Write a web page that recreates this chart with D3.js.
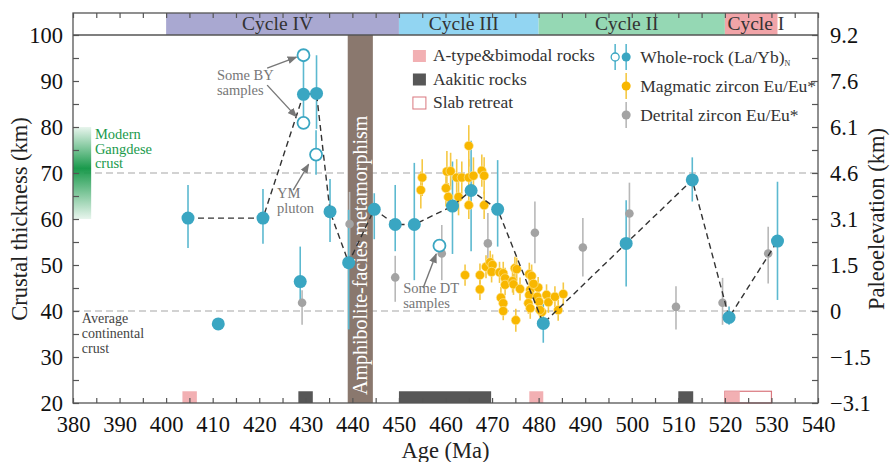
<!DOCTYPE html>
<html>
<head>
<meta charset="utf-8">
<script src="https://cdn.jsdelivr.net/npm/d3@7/dist/d3.min.js"></script>
<style>
  body { margin: 0; background: #fff; }
  svg, svg text { font-family: "Liberation Serif", "Times New Roman", Times, Tinos, "DejaVu Serif", serif !important; }
</style>
</head>
<body>
<div id="chart"></div>
<script>
// age ticks (Ma) and thickness ticks (km)
const ageTicks = [380, 390, 400, 410, 420, 430, 440, 450, 460, 470, 480, 490, 500, 510, 520, 530, 540];
const thickTicks = [20, 30, 40, 50, 60, 70, 80, 90, 100];
const elevLabels = ["\u22123.1", "\u22121.5", "0", "1.5", "3.1", "4.6", "6.1", "7.6", "9.2"];

// cycles along the top band
const cycles = [
  { name: "Cycle IV", from: 400, to: 450, color: "#a9a8d1" },
  { name: "Cycle III", from: 450, to: 480, color: "#92d5f2" },
  { name: "Cycle II", from: 480, to: 520, color: "#95d8b4" },
  { name: "Cycle I", from: 520, to: 531.3, color: "#f1a4a8" }
];

// bottom event bars: type a = A-type&bimodal, k = adakitic, s = slab retreat
const events = [
  { type: "a", from: 403.5, to: 406.6 },
  { type: "k", from: 428.4, to: 431.5 },
  { type: "k", from: 450, to: 469.8 },
  { type: "a", from: 478, to: 481 },
  { type: "k", from: 510, to: 513.2 },
  { type: "s", from: 520, to: 530 },
  { type: "a", from: 520, to: 523.2 }
];

// whole-rock (La/Yb)N, connected by dashed line: [age, thickness, low, high]
const wholeRockLine = [
  [404.7, 60.2, 53.7, 67.4],
  [420.8, 60.2, 54.6, 66.5],
  [429.5, 87.1, 80.9, 95.6],
  [432.3, 87.3, 79.6, 95.6],
  [435.2, 61.6, 55.0, 68.7],
  [439.2, 50.5, 36.0, 62.0],
  [444.7, 62.1, 55.6, 65.6],
  [449.2, 58.8, 53.0, 67.4],
  [453.3, 58.8, 46.7, 72.2],
  [461.5, 62.8, 52.4, 72.5],
  [465.5, 66.2, 53.0, 77.0],
  [471.2, 62.1, 54.0, 72.8],
  [481.0, 37.3, 33.1, 41.5],
  [498.8, 54.7, 45.3, 64.1],
  [513.0, 68.5, 63.8, 73.4],
  [520.9, 38.6, 37.0, 41.0],
  [531.3, 55.2, 42.4, 68.1]
];
// whole-rock, not on the line
const wholeRockOther = [
  [411.2, 37.2, null, null],
  [428.8, 46.4, 42.0, 54.0]
];
// whole-rock open symbols (BY, YM, DT samples)
const wholeRockOpen = [
  [429.5, 95.6, null, null],
  [429.5, 80.9, null, null],
  [432.2, 74.0, 69.6, 79.3],
  [458.7, 54.2, null, null]
];

// detrital zircon Eu/Eu*: [age, thickness, low, high]
const detrital = [
  [429.2, 41.8, 37.0, 44.5],
  [439.4, 58.9, 52.0, 65.9],
  [449.2, 47.3, 42.0, 52.0],
  [459.2, 52.5, 46.7, 58.7],
  [469.1, 54.7, 50.7, 61.3],
  [479.2, 57.0, 50.4, 63.8],
  [489.5, 53.8, 47.5, 60.2],
  [499.5, 61.2, 55.0, 67.9],
  [509.5, 40.9, 36.0, 45.4],
  [519.5, 41.8, 37.0, 47.2],
  [529.3, 52.5, 46.0, 58.3]
];

// magmatic zircon Eu/Eu*: [age, thickness, half error]
const magmatic = [
  [455.0, 69.0, 4], [454.7, 66.3, 4], [460.3, 70.3, 4.5], [461.1, 70.4, 4],
  [460.1, 66.7, 4], [460.6, 64.8, 3], [462.4, 69.0, 4], [463.5, 69.0, 3.5],
  [462.8, 64.8, 4], [465.0, 75.9, 4.5], [465.0, 69.0, 4], [466.0, 69.4, 4],
  [465.0, 63.0, 3], [467.8, 70.5, 3.5], [468.3, 69.4, 4], [468.3, 63.0, 3],
  [464.2, 47.8, 2.3], [467.4, 47.8, 2.5], [467.4, 44.7, 2.3], [468.7, 49.6, 2.5],
  [469.6, 50.6, 2.5], [470.1, 50.0, 2.3], [469.9, 48.5, 2.3], [471.6, 48.4, 2.3],
  [472.4, 48.2, 2.5], [472.8, 47.1, 2.3], [472.8, 45.7, 2.3], [471.9, 42.9, 2.3],
  [472.4, 41.7, 2], [472.4, 40.0, 2], [474.4, 46.5, 2.5], [474.9, 49.3, 2.5],
  [474.6, 45.8, 2.3], [476.0, 44.8, 2.5], [475.1, 38.0, 2.5], [478.0, 48.0, 2.5],
  [478.2, 44.6, 2.3], [478.0, 43.5, 2.3], [477.8, 41.7, 2.3], [478.2, 40.6, 2.3],
  [479.9, 45.1, 2.3], [479.7, 43.1, 2.3], [480.1, 42.0, 2.3], [480.7, 39.8, 2],
  [481.7, 43.5, 2.3], [482.1, 41.9, 2.3], [483.5, 43.1, 2.3], [485.3, 43.7, 2.5],
  [484.2, 40.2, 2.3], [480.3, 40.2, 2], [475.3, 49.1, 2.5], [478.5, 47.6, 2.5],
  [478.9, 45.9, 2.3]
];

const FONT = '"Liberation Serif", "Times New Roman", Times, Tinos, "DejaVu Serif", serif';

const props = {
  width: 890, height: 462,
  top: 35, right: 72, bottom: 59, left: 73,
  band: 22,
  teal: "#3aa6c2", tealBar: "#5cb9d0",
  yellow: "#f8b700", yellowBar: "#f5c844",
  grey: "#a3a3a3", greyBar: "#b8b8b8",
  axis: "#555"
};

const width = props.width - props.left - props.right;
const height = props.height - props.top - props.bottom;

const svg = d3.select("#chart").append("svg")
  .attr("width", props.width)
  .attr("height", props.height)
  .attr("font-family", FONT);

const defs = svg.append("defs");
const grad = defs.append("linearGradient")
  .attr("id", "gangdese").attr("x1", 0).attr("x2", 0).attr("y1", 0).attr("y2", 1);
grad.append("stop").attr("offset", "0%").attr("stop-color", "#1a9a4c").attr("stop-opacity", 0.1);
grad.append("stop").attr("offset", "45%").attr("stop-color", "#1a9a4c").attr("stop-opacity", 1);
grad.append("stop").attr("offset", "100%").attr("stop-color", "#1a9a4c").attr("stop-opacity", 0.1);

defs.append("marker")
  .attr("id", "arrow").attr("viewBox", "0 0 10 10")
  .attr("refX", 9).attr("refY", 5)
  .attr("markerWidth", 7).attr("markerHeight", 7)
  .attr("orient", "auto")
  .append("path").attr("d", "M0,1 L10,5 L0,9 z").attr("fill", "#777");

const g = svg.append("g").attr("transform", `translate(${props.left},${props.top})`);

const x = d3.scaleLinear().domain([380, 540]).range([0, width]);
const y = d3.scaleLinear().domain([20, 100]).range([height, 0]);

// top band with cycles
g.selectAll(".cycle")
  .data(cycles)
  .join("rect")
  .attr("class", "cycle")
  .attr("x", (d) => x(d.from))
  .attr("width", (d) => x(d.to) - x(d.from))
  .attr("y", -props.band)
  .attr("height", props.band)
  .style("fill", (d) => d.color);

g.selectAll(".cycle-label")
  .data(cycles)
  .join("text")
  .attr("class", "cycle-label")
  .attr("x", (d) => d.name === "Cycle I" ? x(d.from) + 31 : (x(d.from) + x(d.to)) / 2 - 5)
  .attr("y", -5)
  .style("text-anchor", "middle")
  .style("font-size", "19.5px")
  .style("fill", "#333")
  .text((d) => d.name);

// reference lines
g.selectAll(".ref")
  .data([70, 40])
  .join("line")
  .attr("class", "ref")
  .attr("x1", 0).attr("x2", width)
  .attr("y1", (d) => y(d)).attr("y2", (d) => y(d))
  .style("stroke", "#c4c4c4")
  .style("stroke-width", 1.3)
  .style("stroke-dasharray", "7,4");

// modern Gangdese crust
g.append("rect")
  .attr("x", 0).attr("width", x(383.9) - x(380))
  .attr("y", y(80)).attr("height", y(60) - y(80))
  .style("fill", "url(#gangdese)");

g.selectAll(".gangdese")
  .data(["Modern", "Gangdese", "crust"])
  .join("text")
  .attr("class", "gangdese")
  .attr("x", x(384.7))
  .attr("y", (d, i) => y(80) + 12 + i * 14.5)
  .style("font-size", "14.5px")
  .style("fill", "#1a9a4c")
  .text((d) => d);

g.selectAll(".avg")
  .data(["Average", "continental", "crust"])
  .join("text")
  .attr("class", "avg")
  .attr("x", x(381.9))
  .attr("y", (d, i) => y(40) + 12 + i * 15)
  .style("font-size", "14px")
  .style("fill", "#444")
  .text((d) => d);

// bottom event bars
const evColor = { a: "#f2b0b3", k: "#575757", s: "none" };
g.selectAll(".event")
  .data(events)
  .join("rect")
  .attr("class", "event")
  .attr("x", (d) => x(d.from))
  .attr("width", (d) => x(d.to) - x(d.from))
  .attr("y", y(22.55))
  .attr("height", y(20) - y(22.55))
  .style("fill", (d) => evColor[d.type])
  .style("stroke", (d) => d.type === "s" ? "#d9777e" : "none")
  .style("stroke-width", 1.2);

// amphibolite-facies metamorphism
g.append("rect")
  .attr("x", x(439.0)).attr("width", x(444.4) - x(439.0))
  .attr("y", 0).attr("height", height)
  .style("fill", "#8a786e");

g.append("text")
  .attr("transform", `translate(${(x(439.0) + x(444.4)) / 2 + 7},${height - 8}) rotate(-90)`)
  .style("font-size", "20px")
  .style("fill", "#fff")
  .text("Amphibolite-facies metamorphism");

// error bars
function errBars(cls, data, color, lo, hi) {
  g.selectAll("." + cls)
    .data(data.filter((d) => lo(d) != null))
    .join("line")
    .attr("class", cls)
    .attr("x1", (d) => x(d[0])).attr("x2", (d) => x(d[0]))
    .attr("y1", (d) => y(lo(d))).attr("y2", (d) => y(hi(d)))
    .style("stroke", color)
    .style("stroke-width", 1.6);
}

errBars("dbar", detrital, props.greyBar, (d) => d[2], (d) => d[3]);
errBars("wbar", wholeRockLine.concat(wholeRockOther, wholeRockOpen), props.tealBar, (d) => d[2], (d) => d[3]);
errBars("mbar", magmatic, props.yellowBar, (d) => d[1] - d[2], (d) => d[1] + d[2]);

g.selectAll(".ddot")
  .data(detrital)
  .join("circle")
  .attr("class", "ddot")
  .attr("cx", (d) => x(d[0])).attr("cy", (d) => y(d[1]))
  .attr("r", 4.3)
  .style("fill", props.grey);

g.selectAll(".mdot")
  .data(magmatic)
  .join("circle")
  .attr("class", "mdot")
  .attr("cx", (d) => x(d[0])).attr("cy", (d) => y(d[1]))
  .attr("r", 4.6)
  .style("fill", props.yellow)
  .style("stroke", "#fde9a8")
  .style("stroke-width", 0.6);

// dashed trend
const line = d3.line().x((d) => x(d[0])).y((d) => y(d[1]));
g.append("path")
  .datum(wholeRockLine)
  .attr("d", line)
  .style("fill", "none")
  .style("stroke", "#333")
  .style("stroke-width", 1.4)
  .style("stroke-dasharray", "6,4");

g.selectAll(".wdot")
  .data(wholeRockLine.concat(wholeRockOther))
  .join("circle")
  .attr("class", "wdot")
  .attr("cx", (d) => x(d[0])).attr("cy", (d) => y(d[1]))
  .attr("r", 6.5)
  .style("fill", props.teal);

g.selectAll(".wopen")
  .data(wholeRockOpen)
  .join("circle")
  .attr("class", "wopen")
  .attr("cx", (d) => x(d[0])).attr("cy", (d) => y(d[1]))
  .attr("r", 6)
  .style("fill", "#fff")
  .style("stroke", props.teal)
  .style("stroke-width", 1.8);

// annotations
const notes = [
  { lines: ["Some BY", "samples"], at: [410.9, 90.2] },
  { lines: ["YM", "pluton"], at: [423.8, 64.6] },
  { lines: ["Some DT", "samples"], at: [450.9, 43.9] }
];
notes.forEach((n) => {
  g.append("g").selectAll("text")
    .data(n.lines)
    .join("text")
    .attr("x", x(n.at[0]))
    .attr("y", (d, i) => y(n.at[1]) + i * 15)
    .style("font-size", "14.5px")
    .style("fill", "#777")
    .text((d) => d);
});

const arrows = [
  [[421.7, 92.8], [428.0, 95.2]],
  [[421.7, 89.1], [428.0, 82.2]],
  [[427.3, 66.3], [430.6, 71.9]],
  [[455.2, 45.0], [458.0, 52.4]]
];
g.selectAll(".arrow")
  .data(arrows)
  .join("line")
  .attr("class", "arrow")
  .attr("x1", (d) => x(d[0][0])).attr("y1", (d) => y(d[0][1]))
  .attr("x2", (d) => x(d[1][0])).attr("y2", (d) => y(d[1][1]))
  .style("stroke", "#777")
  .style("stroke-width", 1.4)
  .attr("marker-end", "url(#arrow)");

// legend, left block
const legendA = [
  { label: "A-type&bimodal rocks", type: "a" },
  { label: "Aakitic rocks", type: "k" },
  { label: "Slab retreat", type: "s" }
];
const lgA = g.selectAll(".legA")
  .data(legendA)
  .join("g")
  .attr("class", "legA")
  .attr("transform", (d, i) => `translate(${x(453.0)},${15 + i * 23.5})`);
lgA.append("rect")
  .attr("width", 13).attr("height", 12)
  .style("fill", (d) => d.type === "s" ? "#fff" : evColor[d.type])
  .style("stroke", (d) => d.type === "s" ? "#d9777e" : "none");
lgA.append("text")
  .attr("x", 20).attr("y", 11)
  .style("font-size", "17.5px")
  .style("fill", "#333")
  .text((d) => d.label);

// legend, right block
const lx = x(498.8);
const legendB = [
  { label: "Whole-rock (La/Yb)", color: props.teal, bar: props.tealBar, y: 22 },
  { label: "Magmatic zircon Eu/Eu*", color: props.yellow, bar: props.yellowBar, y: 51 },
  { label: "Detrital zircon Eu/Eu*", color: props.grey, bar: props.greyBar, y: 80 }
];
const lgB = g.selectAll(".legB")
  .data(legendB)
  .join("g")
  .attr("class", "legB")
  .attr("transform", (d) => `translate(${lx},${d.y})`);
lgB.append("line")
  .attr("y1", -13).attr("y2", 13)
  .style("stroke", (d) => d.bar)
  .style("stroke-width", 1.6);
lgB.append("circle")
  .attr("r", 4.5)
  .style("fill", (d) => d.color);
lgB.append("text")
  .attr("x", 14).attr("y", 6)
  .style("font-size", "17.5px")
  .style("fill", "#333")
  .text((d) => d.label);
g.select(".legB text")
  .append("tspan")
  .attr("dy", 3)
  .style("font-size", "8px")
  .text("N");
const openLeg = g.append("g").attr("transform", `translate(${lx - 11},22)`);
openLeg.append("line").attr("y1", -13).attr("y2", 13)
  .style("stroke", props.tealBar).style("stroke-width", 1.6);
openLeg.append("circle").attr("r", 4)
  .style("fill", "#fff").style("stroke", props.teal).style("stroke-width", 1.3);

// axes
function styleAxis(sel) {
  sel.attr("font-family", FONT);
  sel.select(".domain").remove();
  sel.selectAll(".tick line").style("stroke", props.axis).style("stroke-width", 1.2);
  sel.selectAll(".tick text")
    .style("font-size", "22.5px")
    .style("fill", "#111");
}

const minorAge = d3.range(380, 541, 5);
const minorThick = d3.range(20, 101, 5);

g.append("g")
  .attr("transform", `translate(0,${height})`)
  .call(d3.axisBottom(x).tickValues(minorAge).tickSize(-5).tickFormat(""))
  .call(styleAxis);
g.append("g")
  .attr("transform", `translate(0,${height})`)
  .call(d3.axisBottom(x).tickValues(ageTicks).tickSize(0).tickPadding(13).tickFormat(d3.format("d")))
  .call(styleAxis);
g.append("g")
  .attr("transform", `translate(0,${-props.band})`)
  .call(d3.axisTop(x).tickValues(minorAge).tickSize(-5).tickFormat(""))
  .call(styleAxis);

g.append("g")
  .call(d3.axisLeft(y).tickValues(minorThick).tickSize(-6).tickFormat(""))
  .call(styleAxis);
g.append("g")
  .call(d3.axisLeft(y).tickValues(thickTicks).tickSize(0).tickPadding(10).tickFormat(d3.format("d")))
  .call(styleAxis);

g.append("g")
  .attr("transform", `translate(${width},0)`)
  .call(d3.axisRight(y).tickValues(minorThick).tickSize(-6).tickFormat(""))
  .call(styleAxis);
g.append("g")
  .attr("transform", `translate(${width},0)`)
  .call(d3.axisRight(y).tickValues(thickTicks).tickSize(0).tickPadding(12)
    .tickFormat((d, i) => elevLabels[i]))
  .call(styleAxis);

// frame
g.append("rect")
  .attr("x", 0).attr("y", -props.band)
  .attr("width", width).attr("height", height + props.band)
  .style("fill", "none")
  .style("stroke", props.axis)
  .style("stroke-width", 1.3);
g.append("line")
  .attr("x1", 0).attr("x2", width)
  .attr("y1", 0).attr("y2", 0)
  .style("stroke", props.axis)
  .style("stroke-width", 1.3);

// axis titles
g.append("text")
  .attr("transform", `translate(${-props.left + 27},${height / 2}) rotate(-90)`)
  .style("text-anchor", "middle")
  .style("font-size", "22.5px")
  .style("fill", "#222")
  .text("Crustal thickness (km)");

g.append("text")
  .attr("transform", `translate(${width + props.right - 6},${height / 2}) rotate(-90)`)
  .style("text-anchor", "middle")
  .style("font-size", "22.5px")
  .style("fill", "#222")
  .text("Paleoelevation (km)");

g.append("text")
  .attr("x", width / 2)
  .attr("y", height + 55)
  .style("text-anchor", "middle")
  .style("font-size", "22.5px")
  .style("fill", "#222")
  .text("Age (Ma)");
</script>
</body>
</html>
